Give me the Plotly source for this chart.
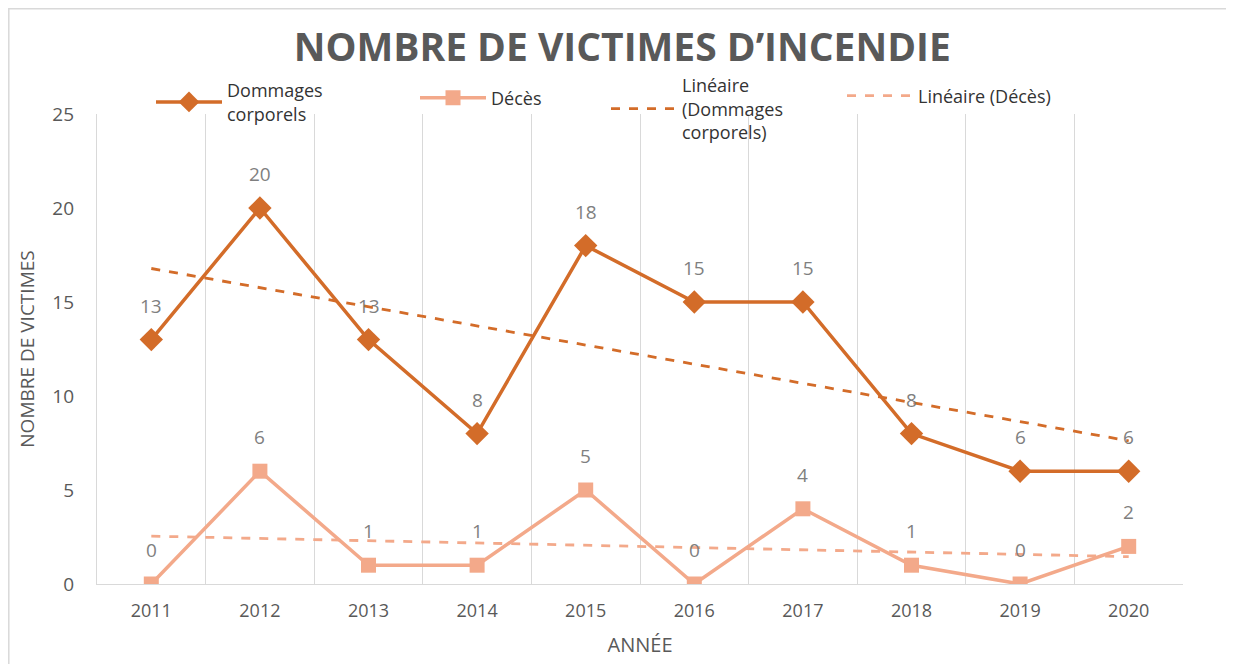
import numpy as np
import plotly.graph_objects as go

years = ["2011", "2012", "2013", "2014", "2015", "2016", "2017", "2018", "2019", "2020"]
dommages = [13, 20, 13, 8, 18, 15, 15, 8, 6, 6]
deces = [0, 6, 1, 1, 5, 0, 4, 1, 0, 2]

C_DOM = "#D36C29"
C_DEC = "#F3A98A"
GRAY = "#595959"
LBL = "#7F7F7F"
FONT = "Open Sans"

xi = np.arange(1, len(years) + 1)
def trend(vals):
    a, b = np.polyfit(xi, np.array(vals, float), 1)
    return [float(v) for v in a * xi + b]

W, H = 1226, 656
ML, MR, MT, MB = 89, 51, 106, 80
PW, PH = W - ML - MR, H - MT - MB
OFF = 8  # page offset of the figure inside the browser page

def lx(page_x):
    return (page_x - 6 - OFF - ML) / PW

def ly(page_y):
    return 1 + (MT + OFF - page_y) / PH

fig = go.Figure()
fig.add_trace(go.Scatter(
    x=years, y=dommages, name="Dommages<br>corporels", mode="lines+markers",
    line=dict(color=C_DOM, width=3.5), legend="legend",
    marker=dict(symbol="diamond", size=18, color=C_DOM)))
fig.add_trace(go.Scatter(
    x=years, y=deces, name="Décès", mode="lines+markers",
    line=dict(color=C_DEC, width=3.5), legend="legend2",
    marker=dict(symbol="square", size=15, color=C_DEC)))
fig.add_trace(go.Scatter(
    x=years, y=trend(dommages), name="Linéaire<br>(Dommages<br>corporels)", mode="lines",
    legend="legend3", line=dict(color=C_DOM, width=2.8, dash="dash")))
fig.add_trace(go.Scatter(
    x=years, y=trend(deces), name="Linéaire (Décès)", mode="lines",
    legend="legend4", line=dict(color=C_DEC, width=2.8, dash="dash")))

annotations = []
for series in (dommages, deces):
    for i, v in enumerate(series):
        annotations.append(dict(x=i, y=v, xref="x", yref="y", text=str(v),
                                showarrow=False, yshift=34,
                                font=dict(family=FONT, size=19, color=LBL)))

def leg(px, py):
    return dict(orientation="h", x=lx(px), xanchor="left", y=ly(py), yanchor="middle",
                bgcolor="rgba(255,255,255,0)", font=dict(family=FONT, size=18, color="#333333"),
                valign="middle", itemwidth=66)

fig.update_layout(
    width=W, height=H,
    margin=dict(l=ML, r=MR, t=MT, b=MB),
    paper_bgcolor="white", plot_bgcolor="white",
    title=dict(text="<b>NOMBRE DE VICTIMES D’INCENDIE</b>", x=0.501, xanchor="center",
               y=1 - 39 / H, yanchor="middle",
               font=dict(family=FONT, size=39, color=GRAY)),
    showlegend=True,
    legend=leg(157, 102),
    legend2=leg(421, 98),
    legend3=leg(612, 109),
    legend4=leg(848, 96),
    annotations=annotations,
    shapes=[dict(type="rect", xref="paper", yref="paper",
                 x0=(0.8 - ML) / PW, x1=(W + 50 - ML) / PW,
                 y0=-1, y1=1 + (MT - 0.8) / PH,
                 line=dict(color="#D9D9D9", width=1.5), fillcolor="rgba(0,0,0,0)", layer="below")],
)
fig.update_xaxes(type="category", categoryorder="array", categoryarray=years,
                 range=[-0.5, len(years) - 0.5], automargin=False,
                 tickson="boundaries", showgrid=True, gridcolor="#D9D9D9",
                 gridwidth=1.3, ticks="", showline=True, linecolor="#D9D9D9", linewidth=1.3,
                 mirror=False, zeroline=False, tickangle=0, ticklabelstandoff=10,
                 tickfont=dict(family=FONT, size=18, color=GRAY),
                 title=dict(text="ANNÉE", font=dict(family=FONT, size=20, color=GRAY), standoff=17))
fig.update_yaxes(range=[0, 25], dtick=5, showgrid=False, zeroline=False, showline=True,
                 automargin=False,
                 linecolor="#D9D9D9", linewidth=1.3, ticks="", ticklabelstandoff=18,
                 tickfont=dict(family=FONT, size=19, color=GRAY),
                 title=dict(text="NOMBRE DE VICTIMES", font=dict(family=FONT, size=19, color=GRAY), standoff=12))

fig.write_html("out.html")
